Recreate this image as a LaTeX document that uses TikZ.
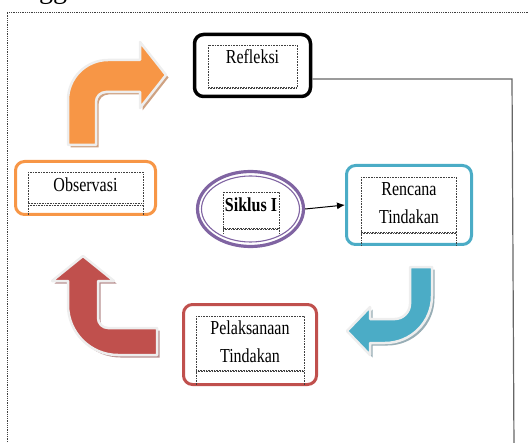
\documentclass[tikz,border=0pt]{standalone}
\usepackage{fontspec}
\setmainfont{Liberation Serif}
\usetikzlibrary{shapes.geometric,arrows.meta}
\definecolor{orC}{HTML}{F79646}
\definecolor{orS}{HTML}{CFA282}
\definecolor{rdC}{HTML}{C0504D}
\definecolor{rdS}{HTML}{B89090}
\definecolor{blC}{HTML}{4BACC6}
\definecolor{blS}{HTML}{98AEB6}
\definecolor{puC}{HTML}{8064A2}
\definecolor{rimC}{HTML}{EEEEEE}
\newcommand\tallword[1]{\scalebox{0.97}[1.2]{#1}}
\tikzset{
  box/.style={rounded corners=9pt, line width=3pt, inner sep=0pt},
  innerbox/.style={draw=black!75, densely dotted, line width=0.6pt},
  lbl/.style={font=\fontsize{16.5}{28}\selectfont, align=center, inner sep=0pt},
  bigarrow/.style={line width=2.5pt, draw=rimC, line join=round},
  conn/.style={draw=black!60, line width=1.2pt},
}
\def\orangepath{(68,145) -- (68,100) .. controls (68,78) and (86,60) .. (108,60) -- (140,60) -- (140,42) -- (166,75) -- (140,108) -- (140,92) -- (106,92) .. controls (100.5,92) and (96,96.5) .. (96,102) -- (96,145) -- cycle}
\def\redpath{(83,256) -- (114,281) -- (98,281) -- (98,318) .. controls (98,323.5) and (102.5,328) .. (108,328) -- (157,328) -- (157,355) -- (118,355) .. controls (90.4,355) and (68,332.6) .. (68,305) -- (68,281) -- (52,281) -- cycle}
\def\bluepath{(410,267) -- (432,267) -- (432,296) .. controls (432,322) and (411,343) .. (385,343) -- (370,343) -- (370,355) -- (347,331) -- (370,307) -- (370,319) -- (395,319) .. controls (403,319) and (410,312) .. (410,304) -- cycle}
\begin{document}
\begin{tikzpicture}[x=1pt,y=-1pt]
\useasboundingbox (0,0) rectangle (529,443);
% partial text at top
\node[font=\fontsize{28}{28}\selectfont, anchor=base west, inner sep=0pt] (gg) at (39,-1) {gg};
% outer frame
\draw[densely dotted, draw=black!75, line width=0.8pt] (7,460) -- (7,12) -- (540,12);

% big arrows
\fill[orS, shift={(2.5,2.5)}] \orangepath;
\filldraw[bigarrow, fill=orC] \orangepath;
\fill[rdS, shift={(2.5,2.5)}] \redpath;
\filldraw[bigarrow, fill=rdC] \redpath;
\fill[blS, shift={(2.5,2.5)}] \bluepath;
\filldraw[bigarrow, fill=blC] \bluepath;

% Refleksi
\node[box, draw=black, minimum width=116, minimum height=62, line width=3.5pt] (refl) at (252.5,65.5) {};
\draw[innerbox] (208,45) rectangle (297,87);
\draw[innerbox] (208,88.5) -- (297,88.5);
\node[lbl] (trefl) at (252.5,57) {\tallword{Refleksi}};

% Observasi
\node[box, draw=orC, minimum width=140, minimum height=53] (obs) at (85.5,188) {};
\draw[innerbox] (28,172) rectangle (143,203);
\draw[innerbox] (28,205) -- (143,205);
\draw[innerbox] (28,203) -- (28,215) (143,203) -- (143,215);
\node[lbl] (tobs) at (85.5,185) {\tallword{Observasi}};

% Siklus I
\node[ellipse, draw=puC, line width=3.2pt, minimum width=106, minimum height=75, inner sep=0pt] (sik) at (250.5,209) {};
\draw[puC, line width=1.1pt] (sik.center) ellipse [x radius=49, y radius=33];
\draw[innerbox] (223,192) rectangle (279,228);
\draw[innerbox] (223,229.5) -- (279,229.5);
\draw[innerbox] (223,228) -- (223,233) (279,228) -- (279,233);
\node[lbl, font=\fontsize{16.5}{28}\selectfont\bfseries] (tsik) at (251,205) {\tallword{Siklus I}};

% Rencana Tindakan
\node[box, draw=blC, minimum width=125, minimum height=79] (ren) at (409,205) {};
\draw[innerbox] (361,177) rectangle (456,232);
\draw[innerbox] (361,233.5) -- (456,233.5);
\draw[innerbox] (361,232) -- (361,245) (456,232) -- (456,245);
\node[lbl] (tren) at (409,203) {\tallword{Rencana}\\\tallword{Tindakan}};

% Pelaksanaan Tindakan
\node[box, draw=rdC, minimum width=133, minimum height=80] (pel) at (250,344.5) {};
\draw[innerbox] (196,316) rectangle (304,370);
\draw[innerbox] (196,371.5) -- (304,371.5);
\draw[innerbox] (196,370) -- (196,385) (304,370) -- (304,385);
\node[lbl] (tpel) at (250,342) {\tallword{Pelaksanaan}\\\tallword{Tindakan}};

% connectors
\draw[-{Latex[length=8pt,width=7pt]}, line width=1pt] (sik.east) -- (ren.west);
\coordinate (c1) at (512,79);
\coordinate (c2) at (514,450);
\draw[conn] (refl.east |- c1) -- (c1) -- (c2);
\end{tikzpicture}
\end{document}
